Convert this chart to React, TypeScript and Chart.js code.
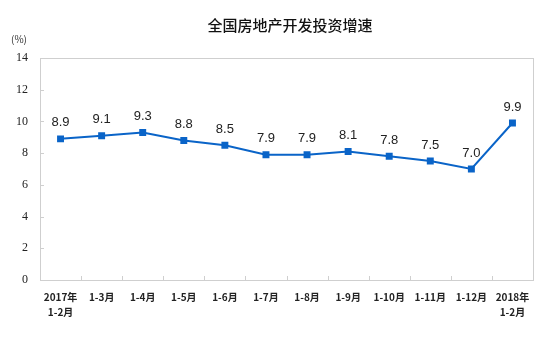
import React, { useEffect, useRef } from "react";
import { Chart, registerables } from "chart.js";

Chart.register(...registerables);

const categories: (string | string[])[] = [
  ["2017年", "1-2月"], "1-3月", "1-4月", "1-5月", "1-6月", "1-7月",
  "1-8月", "1-9月", "1-10月", "1-11月", "1-12月", ["2018年", "1-2月"],
];
const growth = [8.9, 9.1, 9.3, 8.8, 8.5, 7.9, 7.9, 8.1, 7.8, 7.5, 7.0, 9.9];
const yTicks = [0, 2, 4, 6, 8, 10, 12, 14];
const title = "全国房地产开发投资增速";
const unit = "(%)";

const BORDER = "#cfcfcf";
const LINE = "#0a64c8";

const decorPlugin = {
  id: "decor",
  afterDraw(chart: any) {
    const { ctx, chartArea: a, scales } = chart;
    ctx.save();
    ctx.strokeStyle = BORDER;
    ctx.lineWidth = 1;
    ctx.strokeRect(Math.round(a.left) + 0.5, Math.round(a.top) + 0.5, Math.round(a.right - a.left), Math.round(a.bottom - a.top));
    const ys = scales.y;
    yTicks.forEach((v) => {
      const y = Math.round(ys.getPixelForValue(v)) + 0.5;
      ctx.beginPath();
      ctx.moveTo(a.left, y);
      ctx.lineTo(a.left + 4, y);
      ctx.stroke();
    });
    const xs = scales.x;
    for (let i = 1; i < categories.length; i++) {
      const x = Math.round((xs.getPixelForValue(i - 1) + xs.getPixelForValue(i)) / 2) + 0.5;
      ctx.beginPath();
      ctx.moveTo(x, a.bottom);
      ctx.lineTo(x, a.bottom - 4);
      ctx.stroke();
    }
    ctx.fillStyle = "#111";
    ctx.font = "500 15px 'Noto Sans CJK SC'";
    ctx.textAlign = "center";
    ctx.textBaseline = "middle";
    ctx.fillText(title, 290, 25);
    ctx.font = "10px 'Noto Sans CJK SC'";
    ctx.textAlign = "left";
    ctx.fillStyle = "#333";
    ctx.fillText(unit, 11, 39);
    const meta = chart.getDatasetMeta(0);
    ctx.font = "13px 'Liberation Sans'";
    ctx.fillStyle = "#222";
    ctx.textAlign = "center";
    meta.data.forEach((pt: any, i: number) => {
      ctx.fillText(growth[i].toFixed(1), pt.x, pt.y - 16);
    });
    ctx.restore();
  },
};

export default function App() {
  const ref = useRef<HTMLCanvasElement>(null);
  useEffect(() => {
    document.body.style.margin = "0";
    const chart = new Chart(ref.current!, {
      type: "line",
      data: {
        labels: categories,
        datasets: [
          {
            data: growth,
            borderColor: LINE,
            backgroundColor: LINE,
            borderWidth: 2,
            pointStyle: "rect",
            pointRadius: 3.5,
            pointHoverRadius: 3.5,
            tension: 0,
          },
        ],
      },
      options: {
        animation: false,
        responsive: false,
        layout: { padding: { top: 58, right: 17, left: 0, bottom: 0 } },
        plugins: { legend: { display: false }, tooltip: { enabled: false }, title: { display: false } },
        scales: {
          x: {
            offset: true,
            grid: { display: false, drawTicks: false },
            border: { display: false },
            ticks: {
              color: "#222",
              font: { family: "'Noto Sans CJK SC'", size: 10, weight: "bold", lineHeight: 1.5 },
              padding: 10,
              maxRotation: 0,
              autoSkip: false,
            },
            afterFit(s: any) { s.height = 78; },
          },
          y: {
            min: 0,
            max: 14,
            grid: { display: false, drawTicks: false },
            border: { display: false },
            afterBuildTicks(s: any) { s.ticks = yTicks.map((v) => ({ value: v })); },
            ticks: {
              color: "#222",
              font: { family: "'Liberation Serif'", size: 12 },
              padding: 12,
            },
            afterFit(s: any) { s.width = 40; },
          },
        },
      },
      plugins: [decorPlugin],
    });
    return () => chart.destroy();
  }, []);
  return (
    <div style={{ position: "absolute", left: 0, top: 0, width: 550, height: 358 }}>
      <canvas ref={ref} width={550} height={358} />
    </div>
  );
}
